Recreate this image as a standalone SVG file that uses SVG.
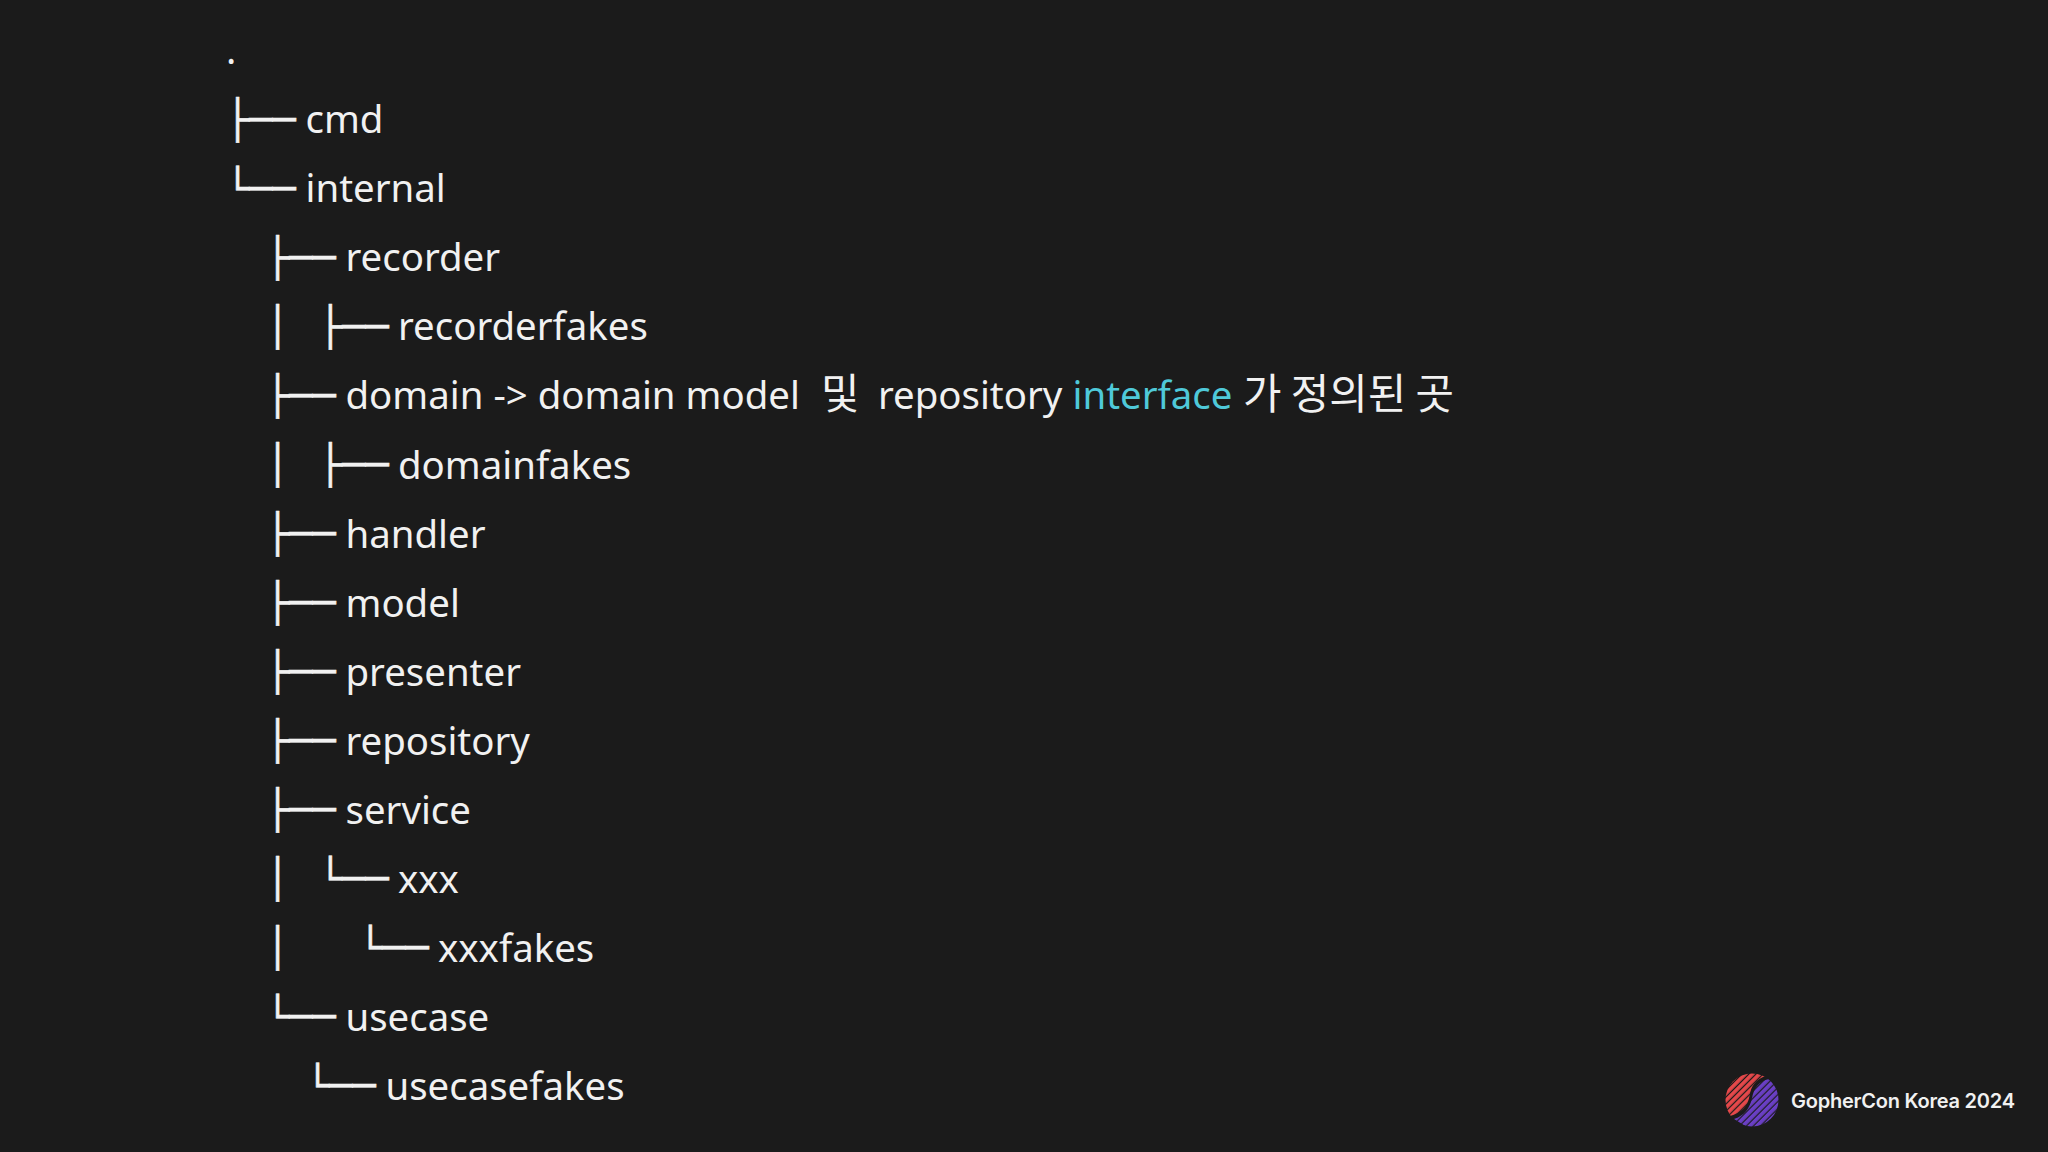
<svg xmlns="http://www.w3.org/2000/svg" width="2048" height="1152" viewBox="0 0 2048 1152">
<style>
text{fill:#f1f1f1}
.t{font-family:"Noto Sans","Noto Sans CJK KR",sans-serif;font-size:38.4px;white-space:pre}
.k{font-family:"Noto Sans CJK KR","Noto Sans",sans-serif;font-size:41.8px}
.b{font-family:"DejaVu Sans Mono",monospace;font-size:38.6px;stroke:#f1f1f1;stroke-width:.4px}
.h{fill:#4fc9d9}
.logo{font-family:Inter,sans-serif;font-size:20px;font-weight:600}
</style>
<defs>
<pattern id="pr" width="5" height="5" patternUnits="userSpaceOnUse" patternTransform="rotate(-45 1752 1100)"><rect width="5" height="3.8" fill="#e5484a"/></pattern>
<pattern id="pp" width="5" height="5" patternUnits="userSpaceOnUse" patternTransform="rotate(-45 1752 1100)"><rect width="5" height="3.8" fill="#6a3fc4"/></pattern>
<clipPath id="disc"><circle cx="1752" cy="1100" r="26.5"/></clipPath>
</defs>
<rect width="2048" height="1152" fill="#1b1b1b"/>
<g id="tree">
<g id="root"><text class="t" x="226" y="64">.</text></g>
<g id="cmd"><text class="b" x="225.9" y="133">├──</text><text class="t" x="305.5" y="133">cmd</text></g>
<g id="internal"><text class="b" x="225.9" y="202">└──</text><text class="t" x="305.5" y="202.1">internal</text></g>
<g id="recorder"><text class="b" x="265.9" y="271">├──</text><text class="t" x="345.5" y="271.2">recorder</text></g>
<g id="recorderfakes"><text class="b" x="265.9" y="340">│</text><text class="b" x="318.7" y="340">├──</text><text class="t" x="398" y="340.3">recorderfakes</text></g>
<g id="domain"><text class="b" x="265.9" y="409">├──</text><text class="t" x="345.5" y="409.4">domain -&gt; domain model</text><text class="k" x="821" y="409.4">및</text><text class="t" x="878" y="409.4">repository</text><text class="t h" x="1072.5" y="409.4">interface</text><text class="k" x="1243" y="409.4">가 정의된 곳</text></g>
<g id="domainfakes"><text class="b" x="265.9" y="478">│</text><text class="b" x="318.7" y="478">├──</text><text class="t" x="398" y="478.5">domainfakes</text></g>
<g id="handler"><text class="b" x="265.9" y="547">├──</text><text class="t" x="345.5" y="547.6">handler</text></g>
<g id="model"><text class="b" x="265.9" y="616">├──</text><text class="t" x="345.5" y="616.7">model</text></g>
<g id="presenter"><text class="b" x="265.9" y="685">├──</text><text class="t" x="345.5" y="685.8">presenter</text></g>
<g id="repository"><text class="b" x="265.9" y="754">├──</text><text class="t" x="345.5" y="754.9">repository</text></g>
<g id="service"><text class="b" x="265.9" y="823">├──</text><text class="t" x="345.5" y="824">service</text></g>
<g id="xxx"><text class="b" x="265.9" y="892">│</text><text class="b" x="318.7" y="892">└──</text><text class="t" x="398" y="893.1">xxx</text></g>
<g id="xxxfakes"><text class="b" x="265.9" y="961">│</text><text class="b" x="358.7" y="961">└──</text><text class="t" x="438" y="962.2">xxxfakes</text></g>
<g id="usecase"><text class="b" x="265.9" y="1030">└──</text><text class="t" x="345.5" y="1031.3">usecase</text></g>
<g id="usecasefakes"><text class="b" x="305.9" y="1099">└──</text><text class="t" x="385.5" y="1100.4">usecasefakes</text></g>
</g>
<g id="logo">
<g clip-path="url(#disc)">
<path d="M1769 1079C1759 1081 1754 1088 1752 1098C1750 1108 1744 1116 1734 1119L1760 1135L1790 1110L1775 1085Z" fill="url(#pp)"/>
<path d="M1766 1076C1756 1079 1751 1086 1749.500 1096C1748 1106 1741 1113 1730 1116L1715 1100L1735 1065L1765 1065Z" fill="url(#pr)"/>
</g>
<text class="logo" x="1791" y="1108" textLength="224">GopherCon Korea 2024</text>
</g>
</svg>
